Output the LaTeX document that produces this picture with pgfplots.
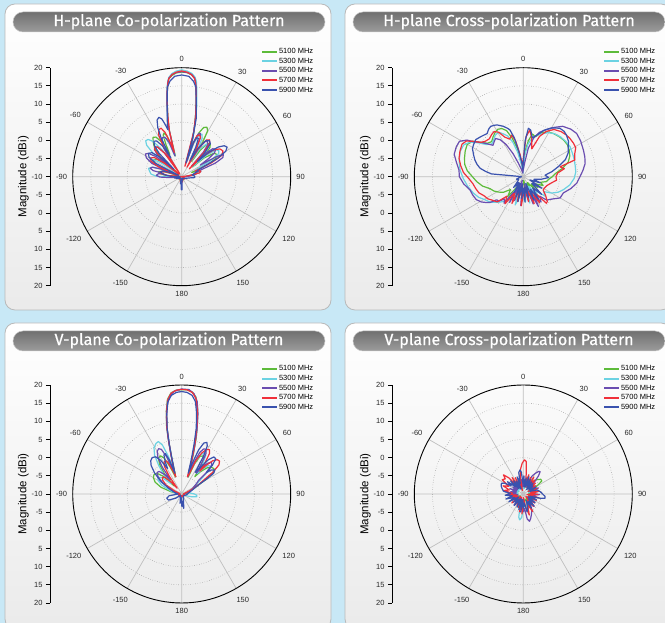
\documentclass[border=0pt]{standalone}
\usepackage{fontspec}
\setmainfont{Liberation Sans}
\newfontfamily\titlefont[FakeBold=0.6]{Fira Sans}
\usepackage{pgfplots}
\pgfplotsset{compat=1.18}
\usepgfplotslibrary{polar}
\usetikzlibrary{calc}
\definecolor{bgblue}{HTML}{C8E8F6}
\definecolor{cA}{HTML}{5DBB3A}
\definecolor{cB}{HTML}{6BD2E2}
\definecolor{cC}{HTML}{6A4DB0}
\definecolor{cD}{HTML}{F0303A}
\definecolor{cE}{HTML}{3A52AE}
\definecolor{pillT}{HTML}{707070}
\definecolor{pillM}{HTML}{505050}
\definecolor{pillB}{HTML}{9C9C9C}

\pgfplotsset{legend image code/.code={\draw[#1] (0pt,0pt) -- (15pt,0pt);}}
\pgfplotsset{
  patt/.style={
    scale only axis, width=218pt, height=218pt,
    xmin=0, xmax=360, ymin=0, ymax=30,
    x filter/.expression={90-x}, y filter/.expression={y+10},
    xtick={0,30,...,330},
    xticklabels={90,60,30,0,-30,-60,-90,-120,-150,180,150,120},
    ytick={5,10,15,20,25},
    yticklabels={},
    grid=major,
    x grid style={gray!50, line width=0.7pt},
    y grid style={gray!85, dotted, line width=0.6pt},
    separate axis lines,
    x axis line style={black, line width=0.9pt},
    y axis line style={draw=none},
    major tick length=0pt,
    xticklabel style={font=\fontsize{7.5}{8}\selectfont, text=black!85, inner sep=5.5pt},
    every axis plot/.append style={line width=1.2pt, line join=round},
  },
  scalebar/.style={
    scale only axis, width=10pt, height=218pt,
    xmin=0, xmax=1, ymin=-30, ymax=30,
    axis x line=none, axis y line*=left,
    axis line style={black, line width=0.8pt, -},
    ytick={-30,-25,...,30},
    yticklabels={20,15,10,5,0,-5,-10,-5,0,5,10,15,20},
    tick align=outside, major tick length=4pt,
    ytick style={black, line width=0.8pt},
    yticklabel style={font=\fontsize{7.5}{8}\selectfont, text=black!85},
    ylabel={Magnitude (dBi)}, ylabel shift=-4pt,
    ylabel style={font=\fontsize{11.5}{13}\selectfont},
    legend cell align=left,
    legend style={at={(axis description cs:21.1,1.094)}, anchor=north west,
      draw=none, fill=none, inner sep=0pt, outer sep=0pt, row sep=0.8pt,
      font=\fontsize{7.5}{8}\selectfont,
      nodes={inner sep=1pt, text height=5.4pt, text depth=1.4pt}},
  },
}
\newcommand\freqlegend{%
  \addlegendimage{cA, line width=2pt}\addlegendentry{5100 MHz}
  \addlegendimage{cB, line width=2pt}\addlegendentry{5300 MHz}
  \addlegendimage{cC, line width=2pt}\addlegendentry{5500 MHz}
  \addlegendimage{cD, line width=2pt}\addlegendentry{5700 MHz}
  \addlegendimage{cE, line width=2pt}\addlegendentry{5900 MHz}
}

\newcommand\panel[3]{%
  \path[draw=gray!55, line width=0.8pt, rounded corners=10pt, top color=white, bottom color=gray!16]
    (#1,#2) rectangle ++(326pt,306pt);
  \path[draw=gray!45, line width=0.5pt, rounded corners=10pt, top color=pillT, middle color=pillM, bottom color=pillB]
    ($(#1,#2)+(8pt,278pt)$) rectangle ++(312pt,20pt);
  \node[text=white, font=\titlefont\fontsize{16}{18}\selectfont] at ($(#1,#2)+(164pt,288.5pt)$) {#3};
}

\begin{document}
\begin{tikzpicture}
\useasboundingbox (0,0) rectangle (665pt,623pt);
\begin{scope}
\clip (0,0) rectangle (665pt,623pt);
\fill[bgblue] (0,0) rectangle (665pt,623pt);
\panel{5pt}{313pt}{H-plane Co-polarization Pattern}
\panel{345pt}{313pt}{H-plane Cross-polarization Pattern}
\panel{5pt}{-6pt}{V-plane Co-polarization Pattern}
\panel{345pt}{-6pt}{V-plane Cross-polarization Pattern}

% ---------------- H-plane Co-pol
\begin{axis}[scalebar, at={(50pt,337.3pt)}, anchor=south west]
\freqlegend
\end{axis}
\begin{polaraxis}[patt, at={(181.7pt,446.3pt)}, anchor=center]
\addplot[cA] coordinates {(-180,-9.5) (-150,-9) (-120,-9.5) (-100,-9.5) (-90,-10) (-86,-6) (-82,-4) (-78,-3.5) (-74,-4.5) (-70,-9) (-67,-4) (-63,-1.5) (-59,-1) (-55,-1.5) (-52,-4) (-49,-9) (-47,-2) (-43,1) (-39,2.5) (-36,3.4) (-33,3) (-30,1) (-28,-3) (-26,0) (-24,2.5) (-22,3) (-20,2) (-18.5,-1) (-17,-4) (-15,3.5) (-13,7) (-11,11) (-9.5,14) (-8.5,15.9) (-7.5,17.2) (-5.5,18) (-3,18.6) (0,18.8) (3,18.7) (5.5,18.2) (7.5,17.4) (8.7,16) (10,13) (12,9) (14,5) (16,1) (18,-5) (19.5,0) (21.5,3) (24,4.8) (27,5.3) (29.5,4.5) (31.5,1) (33,-5) (35,-1) (38,1.5) (41,2) (44,1.2) (46.5,-1) (48,-6) (50,-2) (54,1) (58,1.5) (62,0.5) (65,-2) (67,-7) (70,-5.5) (74,-5) (78,-6) (82,-8) (88,-9) (95,-9.5) (120,-9.5) (150,-9) (170,-9.5) (180,-9.5)};
\addplot[cB] coordinates {(-180,-9.6) (-150,-9.5) (-120,-9) (-100,-9.2) (-93,-8) (-89,-3) (-85,-1.5) (-80,-1) (-76,-0.6) (-72,-1.5) (-69,-4) (-67,-7) (-65,-2) (-62,-0.5) (-59,-1) (-56,-3) (-53,-8) (-51,0) (-48,3) (-45,4) (-42,3.8) (-39,2.5) (-36,-1) (-33,-6) (-31,-1) (-28,1.5) (-25,2) (-22,1.2) (-20,-1) (-18,-4) (-15,3.5) (-13,7.5) (-11,11.5) (-9.5,14.5) (-8.5,16.2) (-7.5,17.5) (-5.5,18.5) (-3,19.1) (0,19.4) (3,19.1) (5.5,18.6) (7.5,17.7) (8.8,16.5) (10,14) (12,10) (14,5.5) (16,1.5) (18,-5) (20,0) (23,2.5) (25.5,3) (28,2) (30,-1) (31.5,-5) (33,-1) (37,1.2) (40,1.5) (43,0.5) (45.5,-2) (47,-6) (49,-1) (52,2) (55,2.5) (58,2) (61,-1) (63,-5) (66,-6) (70,-5) (75,-4.5) (79,-6) (84,-8) (90,-9) (100,-9.5) (130,-9.3) (160,-9.6) (180,-9.6)};
\addplot[cC] coordinates {(-180,-9.4) (-160,-9) (-140,-9.5) (-120,-9.2) (-100,-9) (-95,-7) (-91,-4) (-87,-3) (-83,-3.5) (-80,-5) (-78,-2) (-75,-1) (-72,-1.5) (-70,-4) (-68,-7) (-66,-1) (-62,1) (-58,1.8) (-55,1.2) (-52,-1) (-50,-6) (-48,-1) (-45,0.6) (-42,1) (-39,0.4) (-36,-2) (-34,-7) (-32,-1) (-29,1.5) (-26,2) (-23,1.8) (-20,0) (-18,-4) (-15,3.5) (-13,7.3) (-11,11.3) (-9.5,14.3) (-8.5,16) (-7.5,17.3) (-5.5,18.2) (-3,18.7) (0,18.9) (3,18.7) (5.5,18.3) (7.5,17.4) (8.6,16) (9.8,13.5) (11.5,10) (13.5,6) (15.5,2) (17.5,-6) (19,0) (21,2.5) (23,3) (25.5,2) (27,-1) (28.5,-5) (30,-1) (33,1.5) (36,2) (39,1.5) (41.5,-1) (43,-6) (45,-1) (48,1.5) (51,2) (54,1.2) (56,-1) (58,-4) (60,1) (62,3) (65,2.5) (68,0) (70,-4) (74,-6) (80,-6) (86,-8) (92,-9) (100,-9.5) (130,-9.4) (160,-9.5) (180,-9.4)};
\addplot[cD] coordinates {(-180,-9.5) (-165,-8.5) (-150,-9.5) (-130,-9) (-110,-9.5) (-95,-9) (-88,-10) (-85,-6) (-81,-4.2) (-77,-4) (-73,-5.5) (-70,-9) (-67,-3) (-63,-0.5) (-59,0) (-55,-0.8) (-52,-4) (-50,-9) (-48,-2) (-45,0.5) (-42,1) (-39,0.5) (-36,-2) (-34,-9) (-32,-1) (-29,3) (-26,4.4) (-23,4.5) (-20.5,3) (-18.5,0) (-17,-3) (-15,3) (-13,7) (-11,11) (-9.5,14) (-8.5,15.9) (-7.5,17.2) (-5.5,18.2) (-3,18.8) (0,19.1) (3,18.8) (5.5,18.2) (7.5,17.2) (8.5,15.9) (9.5,14) (11,11) (13,7) (15,3) (17,-7) (18.5,-1) (20.5,2) (23,2.5) (25.5,2) (27.5,-1) (29,-7) (31,-1) (34,2.2) (37,2.7) (40,2) (42.5,-1) (44,-7) (46,-2) (50,1.5) (54,3) (58,3.4) (62,2.5) (65,-1) (67,-6) (70,-5) (74,-4.5) (78,-5) (82,-8) (90,-10) (100,-9.3) (120,-9.5) (140,-9) (160,-9.5) (170,-8.5) (180,-9.5)};
\addplot[cE] coordinates {(-180,-6.3) (-178,-6.5) (-176,-9) (-170,-8) (-160,-9.5) (-140,-9.5) (-120,-9) (-100,-8) (-92,-9.5) (-88,-7) (-83,-5) (-78,-4) (-73,-4.5) (-69,-7) (-66,-9) (-63,-2) (-59,0.5) (-55,1.2) (-51,0.5) (-48,-2) (-46,-7) (-44,-1) (-41,1.5) (-38,2.4) (-35,2) (-32,0) (-30,-4) (-28,2) (-26,5) (-23.5,7) (-21,7.5) (-19,6.8) (-17.5,5) (-16.5,3.5) (-14,6.5) (-11,11) (-9,15) (-7,16.5) (-4,17.7) (0,18) (4,17.7) (7,16.5) (9,15) (11,11) (14,6.5) (16,1) (17.5,-6) (19,0) (21,1.5) (23.5,1.5) (25.5,-1) (27,-5) (30,-1) (34,2) (38,2.5) (41,2) (44,-1) (46,-4) (48,0) (51,3) (54,4.5) (57,4.9) (60,4) (63,1) (65,-3) (68,-5) (73,-6) (80,-7) (88,-6.4) (94,-6.4) (100,-8) (120,-9) (150,-9.5) (170,-9) (176,-9) (178,-6.5) (180,-6.3)};
\end{polaraxis}

% ---------------- H-plane Cross-pol
\begin{axis}[scalebar, at={(392pt,337.3pt)}, anchor=south west]
\freqlegend
\end{axis}
\begin{polaraxis}[patt, at={(523.3pt,446.3pt)}, anchor=center]
\addplot[cA] coordinates {(-180,-8) (-172,-5) (-165,-8) (-158,-4) (-150,-7) (-142,-3) (-135,-5) (-128,-3) (-122,-2) (-116,-1) (-110,-0.3) (-103,1.5) (-96,2.9) (-90,4) (-84,5.5) (-78,6.5) (-72,7) (-66,7.5) (-60,7.8) (-55,7) (-51,5) (-47,3.5) (-42,3) (-37,3.8) (-32,4.5) (-28,4.8) (-24,4.5) (-20,3.5) (-16,1) (-12,-2) (-8,-6) (-4,-8) (0,-7) (4,-3) (8,0) (12,2) (17,1.5) (22,3) (28,4) (35,4.5) (42,4.8) (48,5) (54,5) (60,4.6) (66,4) (72,3) (78,1) (84,-1) (90,-2) (96,-3) (102,-3.5) (108,-5) (114,-4) (120,-6) (126,-5) (132,-7) (138,-5) (144,-8) (150,-6) (158,-8) (166,-6) (174,-9) (180,-8)};
\addplot[cB] coordinates {(-180,-4) (-176,-3.1) (-172,-8) (-168,-4) (-164,-1.9) (-160,-7) (-155,-3) (-150,-6) (-145,-2) (-140,-1) (-135,0) (-130,1) (-125,1.8) (-121,2.3) (-115,3.5) (-108,4.5) (-100,5.5) (-92,6.5) (-84,7.5) (-76,8.2) (-68,8.7) (-62,8.6) (-57,7.5) (-53,5.5) (-49,3.5) (-44,2.5) (-39,3) (-34,3.8) (-29,4) (-25,3) (-21,2) (-17,0) (-13,-3) (-8,-7) (-3,-9) (0,-8) (4,-4) (8,-1) (13,1) (18,2) (24,3) (30,4) (36,4.6) (43,5) (50,5.2) (57,5.3) (64,5) (71,4.8) (78,4.6) (85,4.5) (92,4) (100,3) (108,1.6) (114,0.5) (120,-1) (126,-3) (132,-2) (138,-5) (144,-3) (150,-7) (156,-4) (160,-8) (166,-2.5) (170,-6) (175,-3) (180,-4)};
\addplot[cC] coordinates {(-180,-6) (-175,-2) (-172,-8) (-168,-4) (-164,-9) (-160,-3) (-156,-7) (-152,-2) (-148,-5) (-144,-1) (-140,-2) (-135,-0.5) (-131,-0.3) (-128,1.5) (-125,2.4) (-121,3.5) (-116,4.4) (-110,4.8) (-104,5.1) (-97,6.5) (-90,7.6) (-84,7.8) (-78,8.8) (-72,10) (-66,10.2) (-61,10.1) (-57,8.5) (-55,6.8) (-51,5) (-48,3.6) (-44,2) (-40,2.5) (-36,3) (-32,2) (-28,0) (-24,-3) (-20,-6) (-14,-8) (-8,-9) (0,-8) (6,-6) (10,-2) (15,1) (20,3) (26,4.4) (32,6) (38,7.6) (45,8.5) (51,8.9) (58,8.6) (66,8.1) (72,7.8) (78,7.4) (84,6.5) (90,5.6) (97,4.8) (104,3.5) (112,1.9) (120,1.7) (128,0) (135,-0.9) (140,-3) (145,-1.5) (150,-4) (153,-0.8) (156,-5) (160,-2) (164,-7) (168,-3) (172,-8) (176,-4) (180,-6)};
\addplot[cD] coordinates {(-180,-5) (-176,-2) (-172,-7) (-167,-3) (-162,-6) (-157,-2) (-152,-5) (-146,-1) (-140,-3) (-134,0) (-128,0.6) (-122,1.5) (-116,2) (-110,3) (-104,3.5) (-98,4) (-92,5) (-86,6.5) (-80,7.5) (-74,8.4) (-68,8.8) (-62,9.1) (-58,8.5) (-55,7) (-51,5) (-47,4.3) (-42,4) (-37,4.5) (-33,4.8) (-29,4) (-25,2) (-20,1) (-15.6,1.9) (-12,0) (-8,-4) (-4,-7) (0,-5) (4,1) (8,3) (12,1) (17,-2) (22,2) (27,4) (33,5.5) (40,6.2) (46,6.5) (51,6.6) (56,6.6) (61,6.5) (66,5.5) (72,4.9) (75,0.5) (79,1.5) (84,-0.5) (90,-1) (96,-0.8) (102,-2) (110,-3) (118,-3.4) (124,-3.4) (130,-2) (136,-0.5) (139,-0.3) (143,-4) (148,-1.5) (153,-5) (158,-2) (163,-6) (168,-3) (174,-7) (180,-5)};
\addplot[cE] coordinates {(-180,-7) (-176,-4) (-172,-8) (-168,-3) (-164,-7) (-160,-4) (-156,-8) (-150,-5) (-144,-8) (-138,-6) (-130,-8) (-120,-8.5) (-110,-8) (-100,-9) (-90,-9.5) (-86,-9) (-85,-1.2) (-82,0.5) (-79,2.1) (-75,3.2) (-71,4.1) (-66,5) (-61,6) (-57,6.3) (-52,6.6) (-46,6) (-40,5.5) (-36,6.2) (-33,6.5) (-30,6.3) (-27,6) (-22,5) (-18,4) (-16,3.4) (-13,1) (-10,-3) (-6,-6) (-3,-8) (0,-6) (3,0) (6,3.4) (9,3) (13,1) (18,2) (24,4) (30,5.5) (37,6.7) (42,6.8) (46,6.5) (52,5.8) (56,4.9) (62,4) (68,2.5) (74,0) (80,-2) (86,-4) (92,-3) (98,-5) (104,-7) (110,-5) (116,-8) (122,-4) (128,-7) (134,-3) (140,-6) (146,-2.5) (150,-6) (156,-3) (160,-8) (166,-4) (172,-7) (176,-3) (180,-7)};
\end{polaraxis}

% ---------------- V-plane Co-pol
\begin{axis}[scalebar, at={(50pt,20pt)}, anchor=south west]
\freqlegend
\end{axis}
\begin{polaraxis}[patt, at={(181.7pt,129pt)}, anchor=center]
\addplot[cA] coordinates {(-180,-9.5) (-150,-9.5) (-120,-9) (-100,-9.5) (-85,-9) (-78,-7) (-72,-4) (-66,-2) (-60,-1) (-55,-0.7) (-50,-1.2) (-46,-3) (-43,-7) (-41,-3) (-37,0) (-33,1.8) (-29,2) (-26,1) (-23,-2) (-20,-5) (-18,-4) (-15.5,0) (-14,4.6) (-12.5,9.2) (-10.5,13.2) (-8.5,16.4) (-6,18) (-3,18.6) (0,18.7) (3,18.7) (6,18.2) (8.5,16.9) (10.5,14) (12.5,10) (14.5,6) (16.5,1) (18.5,-4) (21,-5) (23,-1) (26,1.5) (29,2) (32,1.5) (35,-1) (37,-4) (40,-2) (44,0) (48,1) (52,1.3) (56,0.5) (59,-2) (62,-5) (68,-7) (80,-8.5) (95,-9.5) (120,-9.5) (150,-9.2) (180,-9.5)};
\addplot[cB] coordinates {(-180,-9.5) (-150,-9) (-120,-9.5) (-100,-9) (-85,-8.5) (-75,-7) (-66,-4) (-60,-2.5) (-55,-2) (-50,-3) (-46,-6) (-43,-3) (-39,0) (-35,3) (-31,4.8) (-27,5.6) (-24,5.8) (-21.5,4.5) (-19.5,1) (-18,-2) (-16,-1) (-14,4.4) (-12.5,9) (-10.5,13) (-8.5,16.2) (-6,17.9) (-3,18.6) (0,18.8) (3,18.8) (6,18.2) (8.5,16.8) (10.5,13.8) (12.5,9.6) (14.5,5) (16.5,0) (18.5,-4) (20.5,-3) (23,0) (26,2) (29,3) (32,2.5) (35,0) (37,-3) (40,-1) (43,0.7) (46,1) (49,0) (52,-3) (56,-5) (65,-7) (80,-8) (90,-6.5) (95,-5.8) (100,-5.8) (105,-7) (110,-8.5) (130,-9.5) (160,-9) (180,-9.5)};
\addplot[cC] coordinates {(-180,-9.4) (-150,-9.5) (-120,-9) (-100,-9.5) (-80,-9) (-68,-7) (-60,-4) (-54,-2) (-49,-1) (-45,-1.2) (-41,-3) (-38,-5) (-36,-1) (-33,2) (-30,3.5) (-27,4) (-24.5,3.5) (-22,1) (-20,-3) (-18,-3) (-15,2) (-13.5,6.5) (-11.5,11) (-9.5,14.5) (-7,17.2) (-4,18.4) (0,18.9) (4,18.8) (7,17.8) (9.5,15.8) (11.5,12.5) (13.5,8) (15.5,3) (17.5,-2) (19.5,-5) (21,-1) (23.5,2.5) (26,3.8) (28.5,4) (31,3) (33,0) (35,-3) (37,-1) (40,1) (43,2) (46,1.5) (49,-1) (51,-4) (55,-5) (62,-6.5) (70,-7.5) (80,-9) (100,-9.3) (130,-9.5) (160,-9.2) (180,-9.4)};
\addplot[cD] coordinates {(-180,-9.5) (-150,-9) (-120,-9.5) (-100,-9) (-80,-9.5) (-68,-8) (-60,-5) (-54,-3.5) (-49,-3) (-45,-3.5) (-41,-6) (-38,-8) (-35,-4) (-32,-1) (-29,0) (-26,0.2) (-23.5,-0.5) (-21,-3) (-19,-5) (-17.5,-3) (-16,-0.3) (-14,4.4) (-12.5,9) (-10.5,13) (-8.5,16.2) (-6,17.9) (-3,18.6) (0,18.8) (3,18.7) (6,18.1) (8.5,16.6) (10.5,13.5) (12.5,9.5) (14.5,5) (16.5,0) (18.5,-5) (20.5,-4) (23,0) (26,2.5) (29,4) (32,4.4) (34.5,3.5) (37,0.5) (38.5,-2) (40,0) (43,2.5) (46,3.6) (49,3.8) (52,3) (55,0.5) (58,-3) (62,-5) (66,-7) (75,-9) (90,-9.5) (110,-9) (130,-9.5) (150,-9) (170,-9.5) (180,-9.5)};
\addplot[cE] coordinates {(-180,-6.5) (-176,-9) (-170,-7.4) (-160,-9) (-140,-9.5) (-125,-8) (-115,-6) (-106,-5.7) (-98,-6.5) (-90,-9) (-78,-8) (-66,-6) (-58,-3) (-52,-0.5) (-47,1.5) (-43,2.5) (-39,2.9) (-35,2.5) (-32,1) (-29,-2) (-27,0) (-24.5,1.8) (-22,2) (-20,0) (-18,-4) (-15.5,0) (-14,4) (-12.5,8.5) (-10.5,12.5) (-8.5,15.7) (-6,17.3) (-3,18) (0,18.2) (3,18) (6,17.3) (8.5,15.7) (10.5,12.5) (12.5,8.5) (14,4) (15.5,0) (17.5,-4) (19,-1) (21,3) (23.5,5.3) (26,5.8) (28,5) (30,2) (32,-3) (35,-1) (38,2) (41,3.5) (44,3.5) (47,1.5) (49,-1) (51,0.5) (54,1.3) (57,0.5) (59,-2) (62,-5) (70,-7) (80,-8) (95,-8.5) (110,-9) (130,-9.3) (150,-9) (165,-8) (172,-6) (176,-8) (180,-6.5)};
\end{polaraxis}

% ---------------- V-plane Cross-pol
\begin{axis}[scalebar, at={(392pt,20pt)}, anchor=south west]
\freqlegend
\end{axis}
\begin{polaraxis}[patt, at={(523.3pt,129pt)}, anchor=center]
\addplot[cA] coordinates {(-180,-8) (-170,-7) (-160,-8.5) (-150,-7.5) (-140,-8.5) (-130,-7.5) (-120,-9) (-110,-7.5) (-100,-8.5) (-90,-7.5) (-80,-8.5) (-70,-7.5) (-60,-8.5) (-50,-7) (-40,-8) (-30,-7) (-20,-8) (-10,-6.5) (0,-7.5) (10,-6.5) (20,-7.5) (30,-6) (38,-5.5) (44,-4.5) (50,-3.7) (55,-3.8) (59,-5.5) (64,-7.5) (72,-7) (82,-8.5) (92,-7.5) (102,-8.5) (112,-7.5) (122,-8.5) (132,-7.5) (142,-8.5) (152,-7.5) (162,-8.5) (172,-7.5) (180,-8)};
\addplot[cB] coordinates {(-180,-6) (-176,-3.5) (-172,-2.8) (-169,-3.5) (-166,-6) (-162,-7.5) (-156,-6) (-150,-8) (-142,-6.5) (-134,-8.5) (-126,-7) (-118,-8.5) (-110,-7) (-102,-8.5) (-94,-7.5) (-86,-8.5) (-78,-7) (-70,-8.5) (-62,-7) (-54,-8.5) (-46,-7) (-38,-8.5) (-30,-7) (-22,-8.5) (-14,-7) (-6,-8.5) (2,-7) (10,-8.5) (18,-6.5) (26,-8) (34,-6.5) (42,-8) (50,-7) (58,-8.5) (66,-7) (74,-8.5) (82,-7) (90,-6.5) (98,-8) (106,-6.5) (114,-8) (122,-7) (130,-8.5) (138,-7) (146,-8) (154,-6.5) (160,-7.5) (166,-5.5) (172,-6.5) (176,-7) (180,-6)};
\addplot[cC] coordinates {(-180,-5) (-176,-7.5) (-172,-5.5) (-168,-8) (-164,-6) (-158,-8) (-152,-6.5) (-146,-8.5) (-140,-6) (-134,-8) (-128,-6.5) (-122,-8.5) (-116,-6.5) (-110,-8) (-104,-7) (-98,-8.5) (-92,-6) (-86,-8) (-80,-6.5) (-74,-8) (-68,-6) (-62,-8) (-56,-6.5) (-50,-8) (-44,-6) (-38,-8) (-32,-6.5) (-26,-8) (-20,-6) (-14,-8) (-8,-6) (-2,-8) (4,-6) (10,-8) (16,-5.5) (22,-7) (26,-4.5) (30,-3.5) (34,-2.5) (37,-2.3) (40,-3.5) (44,-6) (50,-7.5) (56,-6) (62,-8) (68,-5.5) (74,-7.5) (80,-6) (86,-8) (92,-5.5) (98,-7.5) (104,-6) (110,-8) (116,-6.5) (122,-8) (128,-6) (134,-7.5) (140,-5.5) (146,-7) (152,-5) (158,-4) (163,-3) (167,-2.3) (171,-3) (175,-6) (180,-5)};
\addplot[cD] coordinates {(-180,-7) (-176,-4.5) (-172,-8) (-168,-5) (-164,-8.5) (-160,-6) (-155,-9) (-150,-6.5) (-145,-8.5) (-140,-7) (-134,-9) (-128,-6) (-122,-8) (-116,-6.5) (-110,-8.5) (-104,-6) (-98,-8) (-92,-5.5) (-86,-7) (-80,-4.5) (-74,-6) (-68,-4) (-62,-5.5) (-56,-3) (-50,-3.5) (-46,-2.4) (-42,-4) (-38,-7) (-34,-4.5) (-30,-8) (-26,-5) (-22,-8.5) (-18,-6) (-14,-9) (-10,-5) (-6,-3) (-2,-1.5) (2,-0.6) (5,-1) (8,-4) (12,-7) (16,-4.5) (20,-8) (24,-5) (28,-7.5) (32,-4.5) (36,-7) (40,-5) (44,-8) (48,-5.5) (52,-8) (56,-6) (62,-8.5) (68,-6) (74,-8) (80,-5.5) (86,-8) (92,-6) (98,-9) (104,-5.5) (110,-8) (116,-6) (122,-8.5) (128,-6) (134,-9) (140,-5.5) (146,-8) (152,-4.5) (158,-7) (164,-4) (170,-6.5) (176,-9) (180,-7)};
\addplot[cE] coordinates {(-180,-6) (-176,-8.5) (-172,-5) (-168,-8) (-164,-5.5) (-160,-8.5) (-154,-6) (-148,-8.5) (-142,-6) (-136,-8) (-130,-6.5) (-124,-8.5) (-118,-5.5) (-112,-7.5) (-106,-5) (-100,-7) (-94,-5) (-88,-6.5) (-82,-4.5) (-76,-4) (-70,-3.5) (-64,-3.3) (-60,-4) (-56,-6) (-52,-4.5) (-48,-7) (-44,-5) (-40,-8) (-36,-5.5) (-32,-8) (-28,-6) (-24,-8.5) (-20,-5) (-16,-7) (-12,-4) (-8,-3.3) (-5,-4) (-2,-7) (2,-5) (6,-8) (10,-5.5) (14,-8) (18,-5) (22,-7.5) (26,-5.5) (30,-8) (34,-6) (38,-8.5) (42,-6) (46,-8) (50,-6.5) (56,-8) (62,-6) (68,-8) (74,-6) (80,-5.5) (86,-5) (92,-4.5) (96,-4) (101,-3.9) (104,-5) (108,-8) (114,-6) (120,-8.5) (126,-6) (132,-8) (138,-5.5) (144,-7.5) (150,-5.5) (156,-8) (162,-6) (168,-5) (174,-7.5) (180,-6)};
\end{polaraxis}
\end{scope}
\end{tikzpicture}
\end{document}
